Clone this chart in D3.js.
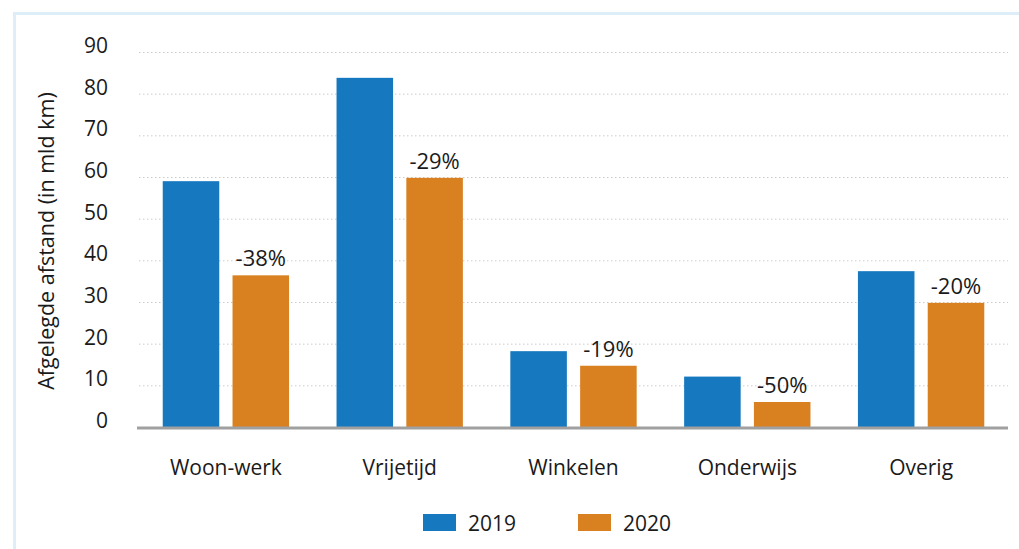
<!DOCTYPE html>
<html>
<head>
<meta charset="utf-8">
<script src="https://cdn.jsdelivr.net/npm/d3@7"></script>
<style>
  body { margin:0; background:#fff; }
  svg { display:block; font-family:"Open Sans", "Noto Sans", sans-serif; }
</style>
</head>
<body>
<svg id="chart" width="1019" height="549"></svg>
<script>
var categories = ['Woon-werk', 'Vrijetijd', 'Winkelen', 'Onderwijs', 'Overig'];
var years = ['2019', '2020'];
var values2019 = [59.0, 83.8, 18.2, 12.1, 37.4];
var values2020 = [36.4, 59.8, 14.7, 6.0, 29.8];
var changeLabels = ['-38%', '-29%', '-19%', '-50%', '-20%'];
var yTicks = [0, 10, 20, 30, 40, 50, 60, 70, 80, 90];
var colors = {'2019': '#1679c0', '2020': '#d98021'};

var svg = d3.select('#chart');

// light blue frame, top and left only
svg.append('path')
  .attr('d', 'M14.5,549 L14.5,13.5 L1019,13.5')
  .attr('fill', 'none')
  .attr('stroke', '#ddeef9')
  .attr('stroke-width', 3);

var y = d3.scaleLinear().domain([0, 90]).range([427, 52]);
var x0 = d3.scaleBand().domain(categories).range([139, 1008]).paddingInner(0).paddingOuter(0);
var x1 = d3.scaleBand().domain(years).range([0, x0.bandwidth()])
  .paddingInner(0.19).paddingOuter(0.34);

// dotted gridlines
svg.append('g')
  .selectAll('line')
  .data(yTicks.filter(function (d) { return d > 0; }))
  .enter()
  .append('line')
  .attr('x1', 139)
  .attr('x2', 1008)
  .attr('y1', function (d) { return y(d) + 0.5; })
  .attr('y2', function (d) { return y(d) + 0.5; })
  .attr('stroke', '#cbcbcb')
  .attr('stroke-width', 1)
  .attr('stroke-dasharray', '1.5,2.5');

// tick labels
svg.append('g')
  .selectAll('text')
  .data(yTicks)
  .enter()
  .append('text')
  .attr('x', 108)
  .attr('y', function (d) { return y(d) + 1; })
  .attr('text-anchor', 'end')
  .attr('font-size', '21px')
  .attr('fill', '#1a1a1a')
  .text(function (d) { return d; });

// axis title
svg.append('text')
  .attr('transform', 'translate(54,241) rotate(-90)')
  .attr('text-anchor', 'middle')
  .attr('font-size', '21.5px')
  .attr('fill', '#1a1a1a')
  .text('Afgelegde afstand (in mld km)');

var rows = categories.map(function (c, i) {
  return {cat: c, vals: [{year: '2019', v: values2019[i]}, {year: '2020', v: values2020[i]}], label: changeLabels[i]};
});

var groups = svg.append('g')
  .selectAll('g')
  .data(rows)
  .enter()
  .append('g')
  .attr('transform', function (d) { return 'translate(' + x0(d.cat) + ',0)'; });

groups.selectAll('rect')
  .data(function (d) { return d.vals; })
  .enter()
  .append('rect')
  .attr('x', function (d) { return x1(d.year); })
  .attr('y', function (d) { return y(d.v); })
  .attr('width', x1.bandwidth())
  .attr('height', function (d) { return y(0) - y(d.v); })
  .attr('fill', function (d) { return colors[d.year]; });

groups.append('text')
  .attr('x', function (d) { return x1('2020') + x1.bandwidth() / 2; })
  .attr('y', function (d) { return y(d.vals[1].v) - 9; })
  .attr('text-anchor', 'middle')
  .attr('font-size', '22px')
  .attr('fill', '#1a1a1a')
  .text(function (d) { return d.label; });

groups.append('text')
  .attr('x', x0.bandwidth() / 2)
  .attr('y', 475)
  .attr('text-anchor', 'middle')
  .attr('font-size', '21px')
  .attr('fill', '#1a1a1a')
  .text(function (d) { return d.cat; });

// baseline
svg.append('line')
  .attr('x1', 137)
  .attr('x2', 1008)
  .attr('y1', y(0) + 1)
  .attr('y2', y(0) + 1)
  .attr('stroke', '#a0a0a0')
  .attr('stroke-width', 3);

// legend
var legend = svg.append('g')
  .selectAll('g')
  .data(years)
  .enter()
  .append('g')
  .attr('transform', function (d, i) { return 'translate(' + (423 + i * 155) + ',514)'; });
legend.append('rect')
  .attr('width', 33)
  .attr('height', 17)
  .attr('fill', function (d) { return colors[d]; });
legend.append('text')
  .attr('x', 45)
  .attr('y', 17)
  .attr('font-size', '21px')
  .attr('fill', '#1a1a1a')
  .text(function (d) { return d; });
</script>
</body>
</html>
